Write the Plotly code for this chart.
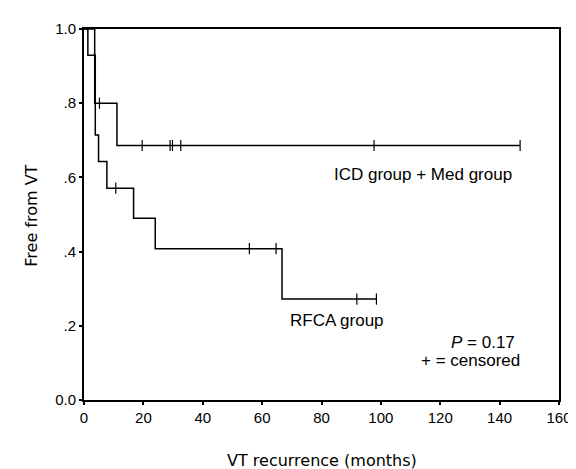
import plotly.graph_objects as go

# ICD group + Med group (Kaplan-Meier steps)
icd_time = [0, 3.6, 11.1, 146.9]
icd_surv = [1.0, 0.80, 0.686, 0.686]
icd_cens_time = [5.2, 19.6, 29.0, 29.8, 32.6, 97.7, 146.9]
icd_cens_surv = [0.80, 0.686, 0.686, 0.686, 0.686, 0.686, 0.686]

# RFCA group
rfca_time = [0, 1.3, 3.8, 4.9, 7.7, 16.7, 24.0, 66.7, 98.5]
rfca_surv = [1.0, 0.929, 0.714, 0.643, 0.571, 0.490, 0.408, 0.272, 0.272]
rfca_cens_time = [10.7, 55.7, 64.7, 91.9, 98.5]
rfca_cens_surv = [0.571, 0.408, 0.408, 0.272, 0.272]

x_ticks = [0, 20, 40, 60, 80, 100, 120, 140, 160]
y_ticks = [0.0, 0.2, 0.4, 0.6, 0.8, 1.0]
y_ticktext = ["0.0", ".2", ".4", ".6", ".8", "1.0"]

fig = go.Figure()
for t, s in [(icd_time, icd_surv), (rfca_time, rfca_surv)]:
    fig.add_trace(go.Scatter(x=t, y=s, mode="lines", line=dict(color="black", width=1.5, shape="hv"),
                             showlegend=False, hoverinfo="skip"))
for t, s in [(icd_cens_time, icd_cens_surv), (rfca_cens_time, rfca_cens_surv)]:
    fig.add_trace(go.Scatter(x=t, y=s, mode="markers",
                             marker=dict(symbol="line-ns", size=8, color="black",
                                         line=dict(color="black", width=1.2)),
                             showlegend=False, hoverinfo="skip"))

txt_font = dict(family="Liberation Sans, Arial, sans-serif", size=17, color="black")
fig.add_annotation(x=83.7, y=0.607, text="ICD group + Med group", showarrow=False,
                   xanchor="left", yanchor="middle", font=txt_font)
fig.add_annotation(x=68.8, y=0.213, text="RFCA group", showarrow=False,
                   xanchor="left", yanchor="middle", font=txt_font)
fig.add_annotation(x=145.8, y=0.156, text="<i>P</i> = 0.17", showarrow=False,
                   xanchor="right", yanchor="middle", font=txt_font)
fig.add_annotation(x=147.5, y=0.107, text="+ = censored", showarrow=False,
                   xanchor="right", yanchor="middle", font=txt_font)

title_font = dict(family="DejaVu Sans, sans-serif", size=16, color="black")
fig.add_annotation(xref="paper", yref="paper", x=0.502, y=-0.162, text="VT recurrence (months)",
                   showarrow=False, xanchor="center", yanchor="middle", font=title_font)
fig.add_annotation(xref="paper", yref="paper", x=-0.11, y=0.496, text="Free from VT",
                   showarrow=False, xanchor="center", yanchor="middle", textangle=-90, font=title_font)

tick_font = dict(family="Liberation Sans, Arial, sans-serif", size=15, color="black")
fig.update_xaxes(range=[0, 160], tickvals=x_ticks, ticks="outside", ticklen=3, tickwidth=2,
                 tickcolor="black", showline=True, linecolor="black", linewidth=2, mirror=True,
                 showgrid=False, zeroline=False, tickfont=tick_font)
fig.update_yaxes(range=[0, 1], tickvals=y_ticks, ticktext=y_ticktext, ticks="outside", ticklen=3,
                 tickwidth=2, tickcolor="black", showline=True, linecolor="black", linewidth=2,
                 mirror=True, showgrid=False, zeroline=False, tickfont=tick_font)
fig.update_layout(width=576, height=469, margin=dict(l=76, r=18, t=15, b=77),
                  plot_bgcolor="white", paper_bgcolor="white")
fig.write_html("out.html")
